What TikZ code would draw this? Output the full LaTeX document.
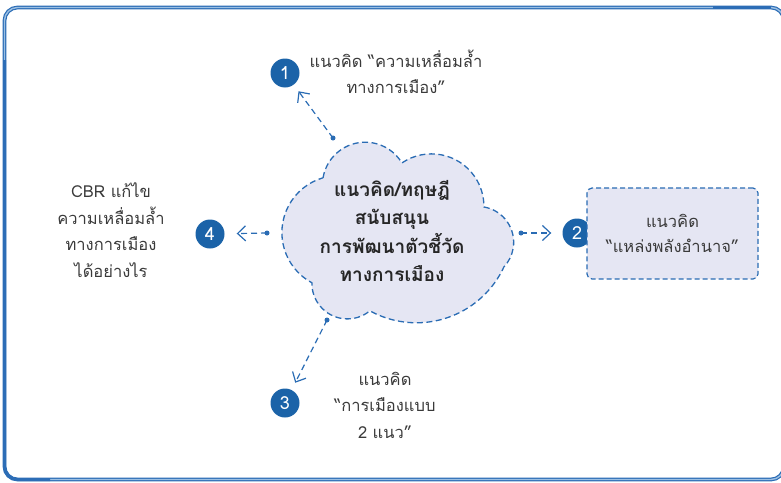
\documentclass[tikz,border=0pt]{standalone}
\usepackage{fontspec}
\setmainfont[Script=Thai]{Loma}
\usetikzlibrary{arrows.meta,calc}
\definecolor{navy}{HTML}{1B63A8}
\definecolor{linkblue}{HTML}{2A6CB4}
\definecolor{framedark}{HTML}{2C6DB6}
\definecolor{framelight}{HTML}{9BBFE3}
\definecolor{lav}{HTML}{E5E6F3}
\definecolor{txt}{HTML}{3A3A3A}
\begin{document}
\begin{tikzpicture}[x=1pt,y=1pt,
  numcirc/.style={circle,fill=navy,text=white,minimum size=29pt,inner sep=0pt,font=\fontsize{18}{18}\selectfont},
  dotnode/.style={circle,fill=linkblue,minimum size=5pt,inner sep=0pt},
  conn/.style={draw=linkblue,line width=1.2pt,dash pattern=on 6pt off 4pt,-{Straight Barb[length=8pt,width=15pt,line width=1.2pt]}},
  label/.style={align=center,text=txt,font=\fontsize{16.5}{26.5}\selectfont,inner sep=0pt},
  cloudtext/.style={align=center,text=black!85,font=\bfseries\fontsize{19}{28.5}\selectfont,inner sep=0pt},
  dashbox/.style={draw=linkblue,fill=lav,line width=1.2pt,dash pattern=on 5pt off 3pt,rounded corners=5pt,minimum width=171pt,minimum height=91pt,align=center,text=txt,font=\fontsize{16.5}{25}\selectfont},
  cloudshape/.style={draw=linkblue,fill=lav,line width=1.3pt,dash pattern=on 6pt off 3.5pt}
]
\useasboundingbox (0,0) rectangle (781,-482);
% frame
\draw[framedark,line width=3.8pt,rounded corners=13pt] (4.5,-7.5) rectangle (784,-479.5);
\draw[framelight,line width=1.4pt,rounded corners=13pt] (4.5,-7.5) rectangle (784,-479.5);
\draw[framedark,line width=3pt,rounded corners=13pt] (4.5,-60) -- (4.5,-479.5) -- (50,-479.5);
\draw[framedark,line width=3.8pt] (713,-7.5) -- (771,-7.5);
% cloud
\coordinate (n1) at (323,-178);
\path[cloudshape] (n1)
  arc[start angle=170.6,end angle=31,radius=42.8]
  arc[start angle=124.2,end angle=-0.65,radius=52.5]
  arc[start angle=80.2,end angle=-43.3,radius=35.87]
  arc[start angle=-24.9,end angle=-118.8,radius=96.5]
  arc[start angle=-50.6,end angle=-181,radius=35.48]
  arc[start angle=241.7,end angle=106.3,radius=57.06]
  -- cycle;
\node[cloudtext] (core) at (392,-231) {แนวคิด/ทฤษฎี\\สนับสนุน\\การพัฒนาตัวชี้วัด\\ทางการเมือง};
% numbered circles
\node[numcirc] (c1) at (285,-73) {1};
\node[numcirc] (c2) at (577,-233) {2};
\node[numcirc] (c3) at (285,-403) {3};
\node[numcirc] (c4) at (210,-234) {4};
% labels
\node[label] (t1) at (396,-72) {แนวคิด “ความเหลื่อมล้ำ\\ทางการเมือง”};
\node[dashbox] (b2) at (672.5,-233.5) {แนวคิด\\“แหล่งพลังอำนาจ”};
\node[label] (t3) at (385,-405) {แนวคิด\\“การเมืองแบบ\\2 แนว”};
\node[label] (t4) at (111,-230) {CBR แก้ไข\\ความเหลื่อมล้ำ\\ทางการเมือง\\ได้อย่างไร};
% dots
\node[dotnode] (d1) at (333,-138) {};
\node[dotnode] (d2) at (521,-233) {};
\node[dotnode] (d3) at (327,-320) {};
\node[dotnode] (d4) at (267,-233) {};
% connectors
\draw[conn,shorten >=8pt] (d1.center) -- (c1);
\draw[conn,shorten >=11pt] (d2.center) -- (c2);
\draw[conn,shorten >=8pt] (d3.center) -- (c3);
\draw[conn,shorten >=12pt] (d4.center) -- (c4);
\end{tikzpicture}
\end{document}
